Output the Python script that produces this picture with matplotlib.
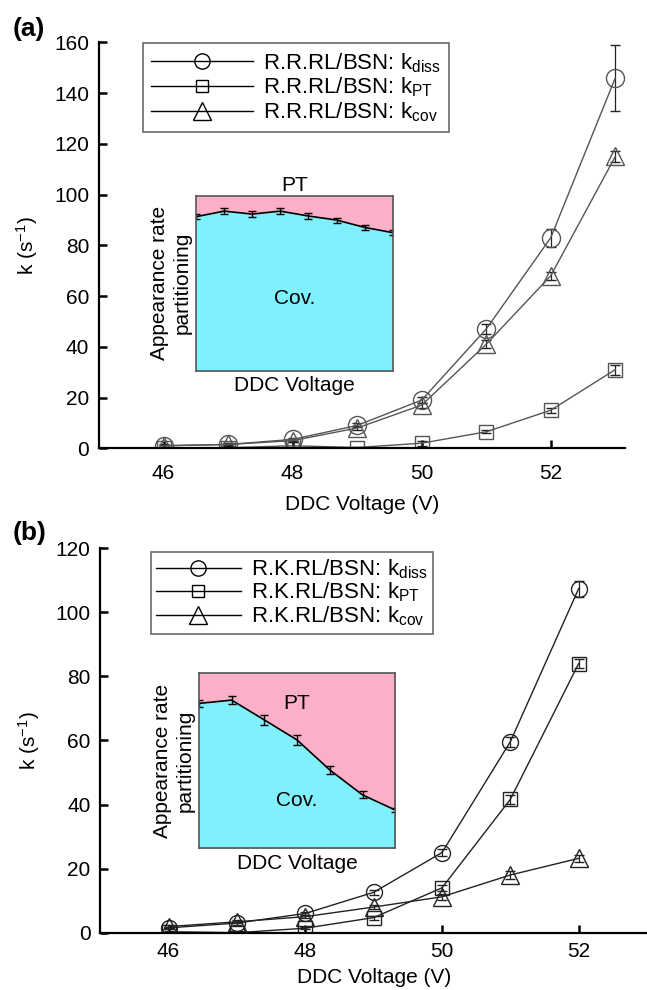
import matplotlib
matplotlib.use("Agg")
import matplotlib.pyplot as plt
from matplotlib.lines import Line2D
import numpy as np

plt.rcParams['font.family'] = ['Liberation Sans', 'DejaVu Sans']
plt.rcParams['mathtext.fontset'] = 'custom'
plt.rcParams['mathtext.rm'] = 'Liberation Sans'
plt.rcParams['mathtext.it'] = 'Liberation Sans'

# ---------------- data (a) ----------------
volt_a = [46, 47, 48, 49, 50, 51, 52, 53]
kdiss_a = [1.0, 1.5, 3.5, 9.0, 19.0, 47.0, 83.0, 146.0]
kdiss_a_err = [0.5, 0.5, 0.6, 0.8, 1.2, 2.0, 3.5, 13.0]
kpt_a = [0.0, 0.2, 1.0, 0.3, 2.0, 6.5, 15.0, 31.0]
kpt_a_err = [0.2, 0.2, 1.5, 0.3, 1.0, 0.6, 1.0, 2.0]
kcov_a = [1.0, 1.5, 3.0, 8.0, 17.0, 41.0, 68.0, 115.0]
kcov_a_err = [0.4, 0.4, 0.5, 0.8, 1.0, 1.5, 1.5, 2.0]
frac_a = [0.88, 0.912, 0.895, 0.912, 0.884, 0.861, 0.819, 0.789]
frac_a_err = [0.015, 0.018, 0.015, 0.018, 0.018, 0.014, 0.015, 0.015]

# ---------------- data (b) ----------------
volt_b = [46, 47, 48, 49, 50, 51, 52]
kdiss_b = [1.5, 3.0, 6.0, 12.6, 25.0, 59.6, 107.4]
kdiss_b_err = [0.4, 0.5, 0.6, 0.8, 1.0, 1.5, 2.5]
kpt_b = [0.3, 0.0, 1.4, 4.7, 14.0, 41.6, 84.0]
kpt_b_err = [0.2, 0.2, 0.4, 0.6, 1.0, 1.5, 1.5]
kcov_b = [1.9, 3.4, 5.0, 8.0, 11.2, 18.0, 23.2]
kcov_b_err = [0.4, 0.5, 0.5, 0.7, 1.0, 1.2, 1.2]
frac_b = [0.825, 0.844, 0.731, 0.617, 0.446, 0.304, 0.218]
frac_b_err = [0.02, 0.025, 0.03, 0.03, 0.025, 0.02, 0.01]

CYAN = "#80F0FC"
PINK = "#FCB0C8"
FS = 15


def draw_main(fig, ax, volt, series, prefix, line_color, msizes, xpad, xlpad,
              leg_xy, leg_opts):
    markers = ['o', 's', '^']
    subs = ['diss', 'PT', 'cov']
    for (vals, errs), m, ms in zip(series, markers, msizes):
        ax.errorbar(volt, vals, yerr=errs, color=line_color, lw=1.0,
                    marker=m, ms=ms, mfc='none', mec=line_color, mew=1.0,
                    ecolor='#222222', elinewidth=0.9, capsize=3.5)
    for s in ['top', 'right']:
        ax.spines[s].set_visible(False)
    ax.spines['left'].set_linewidth(1.6)
    ax.spines['bottom'].set_linewidth(1.6)
    ax.tick_params(direction='in', length=6, width=1.8, labelsize=FS)
    ax.tick_params(axis='y', pad=7)
    ax.tick_params(axis='x', pad=xpad)
    ax.set_xticks([46, 48, 50, 52])
    ax.set_xlabel("DDC Voltage (V)", fontsize=FS, labelpad=xlpad)
    ax.set_ylabel(r"k (s$^{-1}$)", fontsize=FS, labelpad=10)
    handles = [Line2D([], [], color='black', lw=1.0, marker=m, ms=s, mfc='none',
                      mec='black', mew=1.0)
               for m, s in zip(markers, [11, 9, 13])]
    labels = [prefix + r": k$_{\mathrm{" + sub + "}}$" for sub in subs]
    leg = ax.legend(handles, labels, loc='upper left', fontsize=16,
                    bbox_to_anchor=leg_xy, bbox_transform=fig.transFigure,
                    borderaxespad=0, frameon=True, fancybox=False,
                    edgecolor='#444444', handletextpad=0.45, **leg_opts)
    leg.get_frame().set_linewidth(1.2)
    return leg


def draw_inset(ax, volt, frac, err, pt_xy, cov_xy):
    ax.fill_between(volt, 0, frac, color=CYAN, lw=0)
    ax.fill_between(volt, frac, 1, color=PINK, lw=0)
    ax.errorbar(volt, frac, yerr=err, color='black', lw=1.2,
                ecolor='black', elinewidth=1.0, capsize=3)
    ax.set_xlim(volt[0], volt[-1])
    ax.set_ylim(0, 1)
    ax.set_xticks([])
    ax.set_yticks([])
    for s in ax.spines.values():
        s.set_color('#555555')
        s.set_linewidth(1.2)
    ax.set_xlabel("DDC Voltage", fontsize=FS, labelpad=4)
    ax.set_ylabel("Appearance rate\npartitioning", fontsize=FS, labelpad=3,
                  linespacing=1.25)
    ax.text(pt_xy[0], pt_xy[1], "PT", transform=ax.transAxes, fontsize=FS,
            ha='center', va='center')
    ax.text(cov_xy[0], cov_xy[1], "Cov.", transform=ax.transAxes, fontsize=FS,
            ha='center', va='center')


fig = plt.figure(figsize=(6.47, 9.9), dpi=100)

# panel (a)
ax1 = fig.add_axes([0.153, 0.5472, 0.813, 0.4101])
draw_main(fig, ax1, volt_a,
          [(kdiss_a, kdiss_a_err), (kpt_a, kpt_a_err), (kcov_a, kcov_a_err)],
          "R.R.RL/BSN", '#555555', [13, 9.5, 13.5], 11, 9, (0.2215, 0.9563),
          dict(handlelength=4.6, borderpad=0.35, labelspacing=0.05))
ax1.set_xlim(45, 53.15)
ax1.set_ylim(0, 160)
ax1.set_yticks(np.arange(0, 161, 20))

ins1 = fig.add_axes([0.3029, 0.6255, 0.3042, 0.1768])
draw_inset(ins1, volt_a, frac_a, frac_a_err, (0.5, 1.06), (0.5, 0.415))

# panel (b)
ax2 = fig.add_axes([0.155, 0.0579, 0.845, 0.3883])
draw_main(fig, ax2, volt_b,
          [(kdiss_b, kdiss_b_err), (kpt_b, kpt_b_err), (kcov_b, kcov_b_err)],
          "R.K.RL/BSN", '#222222', [11.5, 9.5, 12.5], 7, 5, (0.2328, 0.4427),
          dict(handlelength=3.8, borderpad=0.25, labelspacing=0.0))
ax2.set_xlim(45, 53)
ax2.set_ylim(0, 120)
ax2.set_yticks(np.arange(0, 121, 20))

ins2 = fig.add_axes([0.3074, 0.1431, 0.3036, 0.1774])
draw_inset(ins2, volt_b, frac_b, frac_b_err, (0.5, 0.826), (0.5, 0.275))

fig.text(0.02, 0.971, "(a)", fontsize=19, fontweight='bold', va='center')
fig.text(0.02, 0.462, "(b)", fontsize=19, fontweight='bold', va='center')

fig.savefig("out.png", dpi=100)
